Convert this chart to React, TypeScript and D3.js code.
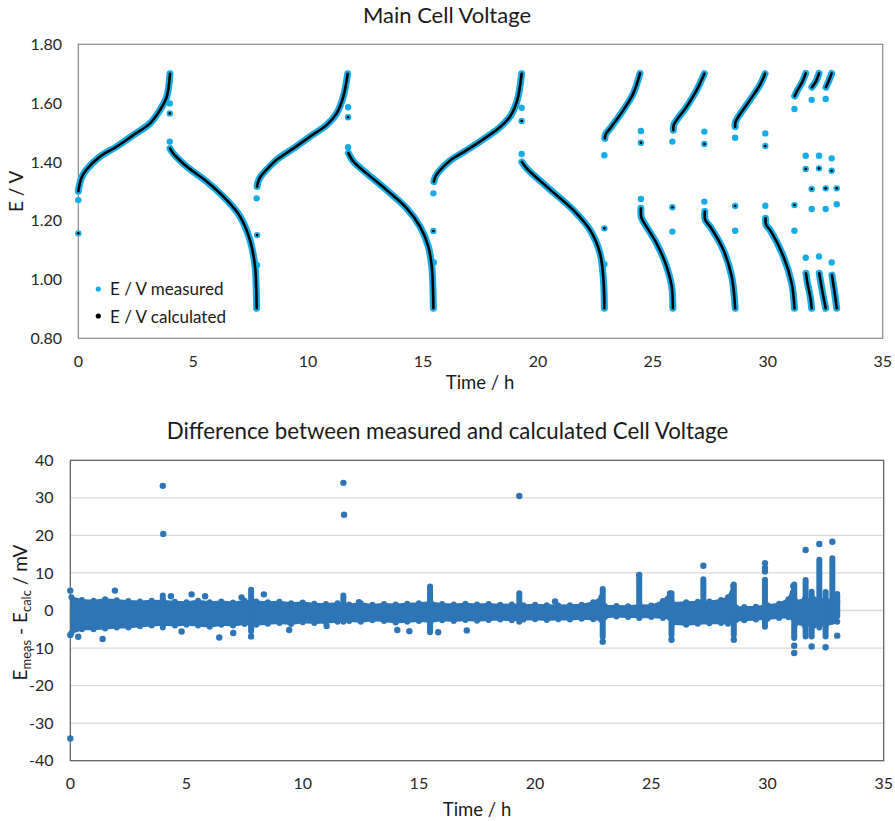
import React from 'react';
import * as d3 from 'd3';

type P = [number, number];

// ---------- Top chart: Main Cell Voltage (t / h, E / V) ----------
const charge1: P[] = [[0.0, 1.300], [0.05, 1.322], [0.15, 1.348], [0.36, 1.374], [0.94, 1.418], [1.67, 1.452], [2.39, 1.491], [3.12, 1.531], [3.55, 1.576], [3.85, 1.622], [3.99, 1.700]];
const discharge1: P[] = [[3.99, 1.446], [4.13, 1.429], [4.72, 1.384], [5.59, 1.333], [6.46, 1.270], [7.04, 1.214], [7.47, 1.134], [7.69, 1.044], [7.74, 0.970], [7.76, 0.902]];
const charge2: P[] = [[7.78, 1.316], [7.83, 1.334], [7.95, 1.352], [8.15, 1.370], [8.63, 1.407], [9.36, 1.446], [10.08, 1.486], [10.81, 1.526], [11.24, 1.565], [11.53, 1.622], [11.72, 1.700]];
const discharge2: P[] = [[11.75, 1.430], [11.97, 1.401], [12.55, 1.361], [13.42, 1.304], [14.29, 1.242], [14.87, 1.180], [15.23, 1.112], [15.38, 1.044], [15.43, 0.970], [15.45, 0.902]];
const charge3: P[] = [[15.47, 1.333], [15.55, 1.352], [15.74, 1.372], [16.17, 1.404], [16.9, 1.440], [17.6, 1.476], [18.3, 1.515], [18.8, 1.556], [19.1, 1.610], [19.29, 1.700]];
const discharge3: P[] = [[19.30, 1.400], [19.51, 1.378], [20.38, 1.316], [21.54, 1.236], [22.27, 1.168], [22.70, 1.089], [22.85, 0.998], [22.89, 0.902]];
const charge4: P[] = [[22.91, 1.480], [22.95, 1.495], [23.14, 1.514], [23.72, 1.577], [24.15, 1.633], [24.44, 1.701]];
const discharge4: P[] = [[24.48, 1.242], [24.49, 1.214], [24.55, 1.202], [25.16, 1.123], [25.60, 1.044], [25.82, 0.976], [25.87, 0.902]];
const charge5: P[] = [[25.89, 1.508], [25.91, 1.526], [26.47, 1.588], [26.91, 1.645], [27.24, 1.700]];
const discharge5: P[] = [[27.26, 1.231], [27.28, 1.202], [27.49, 1.180], [28.07, 1.100], [28.43, 1.010], [28.58, 0.902]];
const charge6: P[] = [[28.58, 1.520], [28.60, 1.537], [29.23, 1.611], [29.66, 1.662], [29.88, 1.700]];
const discharge6: P[] = [[29.90, 1.208], [29.93, 1.185], [30.10, 1.168], [30.68, 1.078], [31.04, 0.987], [31.16, 0.902]];
const charge7: P[] = [[31.17, 1.624], [31.30, 1.645], [31.50, 1.672], [31.65, 1.701]];
const discharge7: P[] = [[31.66, 1.021], [31.72, 0.990], [31.85, 0.940], [31.91, 0.902]];
const charge8: P[] = [[31.92, 1.654], [32.10, 1.675], [32.23, 1.701]];
const discharge8: P[] = [[32.24, 1.021], [32.35, 0.970], [32.52, 0.902]];
const charge9: P[] = [[32.53, 1.654], [32.65, 1.675], [32.78, 1.701]];
const discharge9: P[] = [[32.79, 1.015], [32.88, 0.970], [33.0, 0.902]];

const curveSegments: P[][] = [charge1, discharge1, charge2, discharge2, charge3, discharge3, charge4, discharge4,
  charge5, discharge5, charge6, discharge6, charge7, discharge7, charge8, discharge8, charge9, discharge9];

// isolated relaxation points: measured only
const measuredOnly: P[] = [
  [0.0, 1.270], [3.98, 1.599], [3.98, 1.469], [7.78, 1.049], [7.76, 1.276],
  [11.74, 1.586], [11.74, 1.450], [15.47, 1.058], [15.45, 1.293],
  [19.29, 1.584], [19.29, 1.427], [22.89, 1.052], [22.89, 1.423],
  [24.48, 1.505], [24.48, 1.274], [25.85, 1.163], [25.85, 1.469],
  [27.24, 1.503], [27.24, 1.265], [28.58, 1.166], [28.58, 1.482],
  [29.89, 1.497], [29.89, 1.251], [31.16, 1.166], [31.16, 1.580],
  [31.65, 1.421], [31.65, 1.074], [31.91, 1.240], [31.91, 1.611],
  [32.23, 1.421], [32.23, 1.078], [32.52, 1.240], [32.52, 1.614],
  [32.78, 1.412], [32.78, 1.058], [33.0, 1.256],
];
// isolated relaxation points: measured and calculated
const measuredAndCalc: P[] = [
  [0.0, 1.157], [3.98, 1.565], [7.78, 1.151], [11.74, 1.552], [15.45, 1.165],
  [19.29, 1.539], [22.89, 1.174], [24.48, 1.465], [25.85, 1.246], [27.24, 1.461],
  [28.58, 1.250], [29.89, 1.454], [31.16, 1.253], [31.65, 1.376], [31.91, 1.308],
  [32.23, 1.378], [32.52, 1.310], [32.78, 1.370], [33.0, 1.310],
];

const topYTicks = [0.8, 1.0, 1.2, 1.4, 1.6, 1.8];
const xTicks = [0, 5, 10, 15, 20, 25, 30, 35];
const legendLabels = ['E / V measured', 'E / V calculated'];

// ---------- Bottom chart: E_meas - E_calc (t / h, mV) ----------
// core noise band: [t, upper, lower]
const band: [number, number, number][] = [
  [0.05, 3.5, -6.0], [0.5, 2.8, -5.0], [1.0, 2.6, -5.0], [1.5, 3.0, -4.8], [2.0, 2.7, -4.5], [2.5, 2.5, -4.5],
  [3.0, 2.4, -4.2], [3.5, 2.6, -4.0], [4.0, 2.5, -3.8], [4.5, 2.3, -4.0], [5.0, 2.2, -3.8], [5.5, 2.6, -4.0],
  [6.0, 2.2, -4.3], [6.5, 2.4, -3.8], [7.0, 2.1, -4.0], [7.5, 2.6, -3.6], [8.0, 2.4, -3.8], [8.5, 2.2, -3.5],
  [9.0, 2.3, -3.3], [9.5, 1.9, -3.6], [10.0, 2.1, -3.1], [10.5, 1.8, -3.3], [11.0, 1.7, -3.2], [11.5, 1.9, -3.0],
  [12.0, 1.6, -2.8], [12.5, 1.9, -3.0], [13.0, 1.5, -2.6], [13.5, 1.7, -2.8], [14.0, 1.6, -3.2], [14.5, 1.8, -3.0],
  [15.0, 1.9, -2.8], [15.5, 2.2, -3.0], [16.0, 1.7, -2.6], [16.5, 1.6, -2.8], [17.0, 1.8, -2.5], [17.5, 1.6, -2.7],
  [18.0, 1.7, -2.5], [18.5, 1.5, -2.4], [19.0, 1.6, -2.6], [19.5, 1.4, -2.4], [20.0, 1.5, -2.3], [20.5, 1.4, -2.5],
  [21.0, 1.3, -2.3], [21.5, 1.4, -2.4], [22.0, 1.5, -2.2], [22.5, 2.2, -2.3], [22.85, 3.5, -2.5], [23.0, 1.2, -1.8],
  [23.5, 1.2, -1.6], [24.0, 1.1, -1.7], [24.5, 1.4, -1.8], [25.0, 1.3, -1.7], [25.5, 2.5, -2.0], [25.8, 4.6, -2.0],
  [25.9, 2.0, -3.5], [26.5, 2.2, -3.8], [27.0, 2.3, -3.5], [27.5, 2.4, -3.4], [28.0, 2.8, -3.3], [28.3, 3.5, -3.5],
  [28.52, 6.5, -3.0], [28.65, 0.8, -2.5], [29.0, 0.9, -2.6], [29.5, 1.0, -2.4], [30.0, 1.4, -2.2], [30.5, 1.8, -2.0],
  [30.9, 3.0, -1.8], [31.1, 6.5, -2.0], [31.2, 2.5, -3.5], [31.6, 3.0, -4.0], [32.0, 3.0, -4.0], [32.5, 3.0, -4.0],
  [33.0, 2.5, -3.0],
];
// vertical clusters at the switching points: [t, upper, lower]
const spikes: [number, number, number][] = [
  [3.98, 4.0, -4.5], [7.78, 5.5, -5.5], [11.75, 4.0, -3.0], [15.48, 6.4, -5.8], [19.32, 4.6, -3.0],
  [22.91, 5.7, -7.0], [24.48, 9.1, -2.0], [25.87, 4.6, -6.5], [27.24, 8.3, -1.5], [28.55, 6.9, -6.5],
  [29.89, 8.2, -4.3], [31.15, 6.9, -7.3], [31.64, 8.1, -6.9], [31.90, 5.0, -6.9], [32.23, 13.5, -4.5],
  [32.50, 4.9, -6.9], [32.79, 13.9, -3.0], [33.0, 4.4, -1.5],
];
// isolated points
const outliers: P[] = [
  [0.0, -34.1], [3.98, 33.2], [4.0, 20.4], [11.75, 34.0], [11.78, 25.5], [19.32, 30.5],
  [0.0, 5.3], [1.92, 5.3], [4.33, 3.8], [5.22, 4.3], [5.8, 3.8], [7.37, 3.5], [8.33, 4.3],
  [0.0, -6.5], [0.34, -7.0], [1.39, -7.6], [4.79, -5.6], [6.41, -7.2], [7.01, -6.0], [7.78, -6.9],
  [9.42, -5.2], [11.03, -4.1], [12.42, 2.2], [14.07, -5.2], [14.59, -5.5], [15.83, -5.8], [17.06, -5.3],
  [20.86, 2.4], [22.91, -8.3], [24.48, 9.5], [25.87, -7.8], [27.24, 11.9], [28.55, -7.8],
  [29.89, 12.6], [29.89, 11.3], [29.89, 10.4], [31.15, -9.4], [31.15, -11.3], [31.64, 16.1],
  [31.90, -9.6], [32.23, 17.7], [32.50, -9.8], [32.79, 18.3], [33.0, -6.7],
];
const botYTicks = [-40, -30, -20, -10, 0, 10, 20, 30, 40];

const FONT = 'Lato, "Open Sans", sans-serif';
const MEAS = '#17ACE6';
const DIFF = '#2E75B6';

export default function App() {
  const xTop = d3.scaleLinear().domain([0, 35]).range([78.3, 882.7]);
  const yTop = d3.scaleLinear().domain([0.8, 1.8]).range([338.3, 44.3]);
  const xBot = d3.scaleLinear().domain([0, 35]).range([70.3, 883.7]);
  const yBot = d3.scaleLinear().domain([-40, 40]).range([760.7, 460.3]);

  const line = d3.line<P>().x(d => xTop(d[0])).y(d => yTop(d[1])).curve(d3.curveCatmullRom.alpha(0.5));
  const area = d3.area<[number, number, number]>().x(d => xBot(d[0])).y0(d => yBot(d[2])).y1(d => yBot(d[1]));

  return (
    <svg width={895} height={821} style={{ position: 'absolute', left: 0, top: 0, background: '#fff' }} fontFamily={FONT}>
      <rect x={0} y={0} width={895} height={821} fill="#fff" />
      {/* ---------- Top chart ---------- */}
      <text x={447} y={23} textAnchor="middle" fontSize={22} fill="#1a1a1a">Main Cell Voltage</text>
      <rect x={xTop(0)} y={yTop(1.8)} width={xTop(35) - xTop(0)} height={yTop(0.8) - yTop(1.8)} fill="none" stroke="#8a8a8a" strokeWidth={1.2} />
      {topYTicks.map(v => (
        <text key={'ty' + v} x={62} y={yTop(v)} dy="0.35em" textAnchor="end" fontSize={16} fill="#262626">{v.toFixed(2)}</text>
      ))}
      {xTicks.map(v => (
        <text key={'tx' + v} x={xTop(v)} y={367} textAnchor="middle" fontSize={16} fill="#262626">{v}</text>
      ))}
      <text transform={`translate(23,${(yTop(1.8) + yTop(0.8)) / 2}) rotate(-90)`} textAnchor="middle" fontSize={19} fill="#1a1a1a">E / V</text>
      <text x={480} y={389} textAnchor="middle" fontSize={18.5} fill="#1a1a1a">Time / h</text>

      {curveSegments.map((s, i) => (
        <path key={'m' + i} d={line(s) || ''} fill="none" stroke={MEAS} strokeWidth={7} strokeLinecap="round" strokeLinejoin="round" />
      ))}
      {measuredOnly.concat(measuredAndCalc).map((d, i) => (
        <circle key={'mo' + i} cx={xTop(d[0])} cy={yTop(d[1])} r={3.2} fill={MEAS} />
      ))}
      {curveSegments.map((s, i) => (
        <path key={'c' + i} d={line(s) || ''} fill="none" stroke="#000" strokeWidth={2.6} strokeLinecap="round" strokeLinejoin="round" />
      ))}
      {measuredAndCalc.map((d, i) => (
        <circle key={'mc' + i} cx={xTop(d[0])} cy={yTop(d[1])} r={1.3} fill="#000" />
      ))}

      {/* legend */}
      <circle cx={98.3} cy={289} r={2.6} fill={MEAS} />
      <text x={110} y={295} fontSize={17} fill="#1a1a1a">{legendLabels[0]}</text>
      <circle cx={98.3} cy={316} r={2.6} fill="#000" />
      <text x={110} y={322.5} fontSize={17} fill="#1a1a1a">{legendLabels[1]}</text>

      {/* ---------- Bottom chart ---------- */}
      <text x={447.5} y={438.5} textAnchor="middle" fontSize={22.3} fill="#1a1a1a">Difference between measured and calculated Cell Voltage</text>
      {botYTicks.filter(v => v > -40 && v < 40).map(v => (
        <line key={'g' + v} x1={xBot(0)} x2={xBot(35)} y1={yBot(v)} y2={yBot(v)} stroke="#d9d9d9" strokeWidth={1.3} />
      ))}
      <rect x={xBot(0)} y={yBot(40)} width={xBot(35) - xBot(0)} height={yBot(-40) - yBot(40)} fill="none" stroke="#595959" strokeWidth={1.2} />
      {botYTicks.map(v => (
        <text key={'by' + v} x={53.5} y={yBot(v)} dy="0.35em" textAnchor="end" fontSize={16} fill="#262626">{v}</text>
      ))}
      {xTicks.map(v => (
        <text key={'bx' + v} x={xBot(v)} y={789} textAnchor="middle" fontSize={16} fill="#262626">{v}</text>
      ))}
      <text transform={`translate(27,${(yBot(40) + yBot(-40)) / 2 + 2}) rotate(-90)`} textAnchor="middle" fontSize={19} fill="#1a1a1a">
        E<tspan dy={4} fontSize={13}>meas</tspan><tspan dy={-4}> - E</tspan><tspan dy={4} fontSize={13}>calc</tspan><tspan dy={-4}> / mV</tspan>
      </text>
      <text x={477} y={816} textAnchor="middle" fontSize={18.5} fill="#1a1a1a">Time / h</text>

      <path d={area(band) || ''} fill={DIFF} stroke={DIFF} strokeWidth={2} strokeLinejoin="round" />
      {band.map((d, i) => (
        <g key={'be' + i}>
          <circle cx={xBot(d[0])} cy={yBot(d[1])} r={3} fill={DIFF} />
          <circle cx={xBot(d[0])} cy={yBot(d[2])} r={3} fill={DIFF} />
        </g>
      ))}
      {spikes.map((d, i) => (
        <line key={'sp' + i} x1={xBot(d[0])} x2={xBot(d[0])} y1={yBot(d[1])} y2={yBot(d[2])} stroke={DIFF} strokeWidth={6} strokeLinecap="round" />
      ))}
      {outliers.map((d, i) => (
        <circle key={'o' + i} cx={xBot(d[0])} cy={yBot(d[1])} r={3.2} fill={DIFF} />
      ))}
    </svg>
  );
}
